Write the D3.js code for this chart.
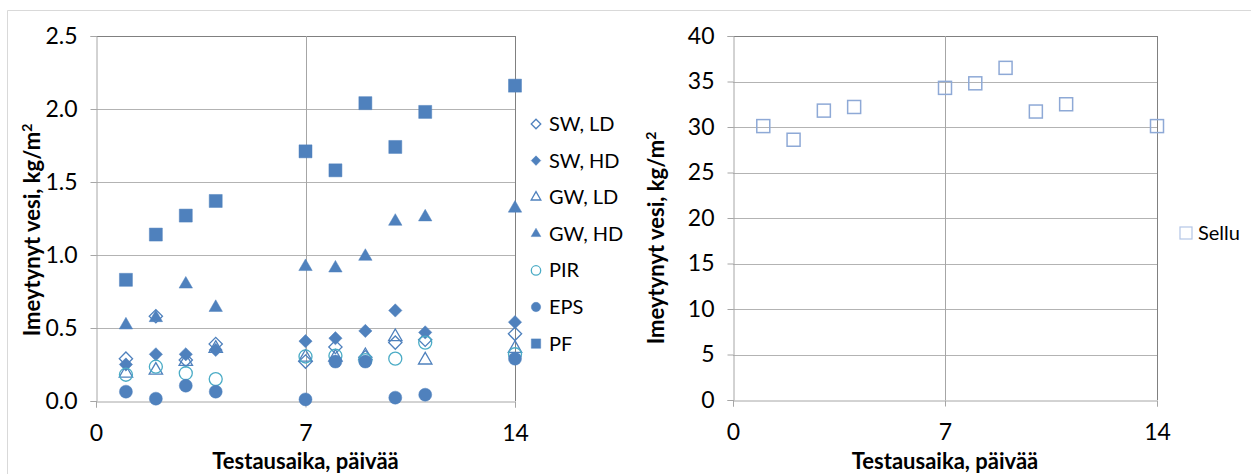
<!DOCTYPE html>
<html>
<head>
<meta charset="utf-8">
<script src="https://cdn.jsdelivr.net/npm/d3@7"></script>
<style>
  body { margin: 0; background: #fff; }
  svg text { font-family: Lato, "Open Sans", sans-serif; fill: #000; }
</style>
</head>
<body>
<script>
// Test days (x values)
const days = [1, 2, 3, 4, 7, 8, 9, 10, 11, 14];

// Absorbed water, kg/m2 (left chart)
const swLD = [0.29, 0.58, 0.28, 0.39, 0.27, 0.37, 0.30, 0.40, 0.42, 0.46];
const swHD = [0.25, 0.32, 0.32, 0.35, 0.41, 0.43, 0.48, 0.62, 0.47, 0.54];
const gwLD = [0.19, 0.21, 0.27, 0.36, 0.30, 0.30, 0.31, 0.44, 0.28, 0.36];
const gwHD = [0.52, 0.57, 0.80, 0.64, 0.92, 0.91, 0.99, 1.23, 1.26, 1.32];
const pir  = [0.18, 0.235, 0.19, 0.15, 0.305, 0.31, 0.28, 0.29, 0.40, 0.32];
const eps  = [0.064, 0.016, 0.105, 0.064, 0.011, 0.27, 0.27, 0.023, 0.043, 0.29];
const pf   = [0.83, 1.14, 1.27, 1.37, 1.71, 1.58, 2.04, 1.74, 1.98, 2.16];

// Right chart
const sellu = [30.1, 28.6, 31.8, 32.2, 34.3, 34.8, 36.5, 31.7, 32.5, 30.1];

const xTicks = [0, 7, 14];
const leftYTicks = [0, 0.5, 1.0, 1.5, 2.0, 2.5];
const rightYTicks = [0, 5, 10, 15, 20, 25, 30, 35, 40];

const blue = '#4F81BD', teal = '#4BACC6', lightBlue = '#8EA9D6';

const leftSeries = [
  { name: 'SW, LD', values: swLD, shape: 'diamond', fill: false, color: blue },
  { name: 'SW, HD', values: swHD, shape: 'diamond', fill: true, color: blue },
  { name: 'GW, LD', values: gwLD, shape: 'triangle', fill: false, color: blue },
  { name: 'GW, HD', values: gwHD, shape: 'triangle', fill: true, color: blue },
  { name: 'PIR', values: pir, shape: 'circle', fill: false, color: teal },
  { name: 'EPS', values: eps, shape: 'circle', fill: true, color: blue },
  { name: 'PF', values: pf, shape: 'square', fill: true, color: blue }
];

const W = 1251, H = 474;
const svg = d3.select('body').append('svg').attr('width', W).attr('height', H);

// outer frame
svg.append('path').attr('d', `M7.5,${H}V10.5H${W}`)
   .attr('fill', 'none').attr('stroke', '#d9d9d9');

function symbolPath(shape, scale) {
  const s = scale || 1;
  if (shape === 'diamond') return d3.symbol(d3.symbolSquare, 88 * s * s)();
  if (shape === 'triangle') return d3.symbol(d3.symbolTriangle, 78 * s * s)();
  if (shape === 'circle') return d3.symbol(d3.symbolCircle, 133 * s * s)();
  return d3.symbol(d3.symbolSquare, 169 * s * s)();
}

function drawMarker(g, x, y, d, scale) {
  g.append('path')
   .attr('d', symbolPath(d.shape, scale))
   .attr('transform', `translate(${x},${y})` + (d.shape === 'diamond' ? ' rotate(45)' : ''))
   .attr('fill', d.fill ? d.color : 'none')
   .attr('stroke', d.color)
   .attr('stroke-opacity', d.fill ? 0.6 : 1)
   .attr('stroke-width', d.fill ? 0.8 : 1.3);
}

function drawPanel(opt) {
  const x = d3.scaleLinear().domain([0, 14]).range([opt.x0, opt.x1]);
  const y = d3.scaleLinear().domain([0, opt.ymax]).range([opt.y0, opt.y1]);
  const g = svg.append('g');

  // horizontal gridlines
  g.selectAll('.hg').data(opt.yTicks.slice(1)).enter().append('line')
   .attr('x1', opt.x0).attr('x2', opt.x1)
   .attr('y1', d => Math.round(y(d)) + 0.5).attr('y2', d => Math.round(y(d)) + 0.5)
   .attr('stroke', d => d === opt.ymax ? '#808080' : '#b3b3b3');
  // vertical gridlines
  g.selectAll('.vg').data(xTicks.slice(1)).enter().append('line')
   .attr('x1', d => Math.round(x(d)) + 0.5).attr('x2', d => Math.round(x(d)) + 0.5)
   .attr('y1', opt.y1).attr('y2', opt.y0)
   .attr('stroke', d => d === 14 ? '#808080' : '#a6a6a6');

  // axes
  const yAxis = d3.axisLeft(y).tickValues(opt.yTicks).tickSize(6).tickPadding(13)
    .tickFormat(opt.yFormat);
  const ya = g.append('g').attr('transform', `translate(${Math.round(opt.x0) + 0.5},0)`).call(yAxis);
  const xAxis = d3.axisBottom(x).tickValues(xTicks).tickSize(6).tickPadding(17).tickFormat(d3.format('d'));
  const xa = g.append('g').attr('transform', `translate(0,${Math.round(opt.y0) + 0.5})`).call(xAxis);
  [ya, xa].forEach(a => {
    a.select('.domain').attr('stroke', '#a6a6a6');
    a.selectAll('.tick line').attr('stroke', '#a6a6a6');
    a.selectAll('.tick text').attr('font-size', 23).attr('fill', '#000');
  });

  // axis titles
  g.append('text')
   .attr('transform', `translate(${opt.titleX},${opt.titleY}) rotate(-90)`)
   .attr('text-anchor', 'middle').attr('font-size', 22).attr('font-weight', 'bold')
   .html('Imeytynyt vesi, kg/m<tspan dy="-8" font-size="14">2</tspan>');
  g.append('text')
   .attr('x', (opt.x0 + opt.x1) / 2).attr('y', 469)
   .attr('text-anchor', 'middle').attr('font-size', 22).attr('font-weight', 'bold')
   .text('Testausaika, päivää');

  return { g, x, y };
}

// left panel
const left = drawPanel({ x0: 96, x1: 515, y0: 401, y1: 36, ymax: 2.5, yTicks: leftYTicks,
  yFormat: d3.format('.1f'), titleX: 40, titleY: 230 });
leftSeries.forEach(s => {
  s.values.forEach((v, i) => drawMarker(left.g, left.x(days[i]), left.y(v), s));
});
// left legend
leftSeries.forEach((s, i) => {
  const ly = 124 + i * 36.6;
  drawMarker(svg, 536, ly, s, 0.72);
  svg.append('text').attr('x', 549).attr('y', ly + 7).attr('font-size', 20).text(s.name);
});

// right panel
const right = drawPanel({ x0: 733, x1: 1157, y0: 400, y1: 36, ymax: 40, yTicks: rightYTicks,
  yFormat: d3.format('d'), titleX: 664, titleY: 238 });
right.g.selectAll('.sellu').data(sellu).enter().append('rect')
  .attr('x', (d, i) => right.x(days[i]) - 6.5)
  .attr('y', d => right.y(d) - 6.5)
  .attr('width', 13).attr('height', 13)
  .attr('fill', 'none').attr('stroke', lightBlue).attr('stroke-width', 1.5);
// right legend
svg.append('rect').attr('x', 1180).attr('y', 227).attr('width', 12).attr('height', 12)
  .attr('fill', 'none').attr('stroke', '#b4c6e7').attr('stroke-width', 1.2);
svg.append('text').attr('x', 1198).attr('y', 240).attr('font-size', 20).text('Sellu');
</script>
</body>
</html>
